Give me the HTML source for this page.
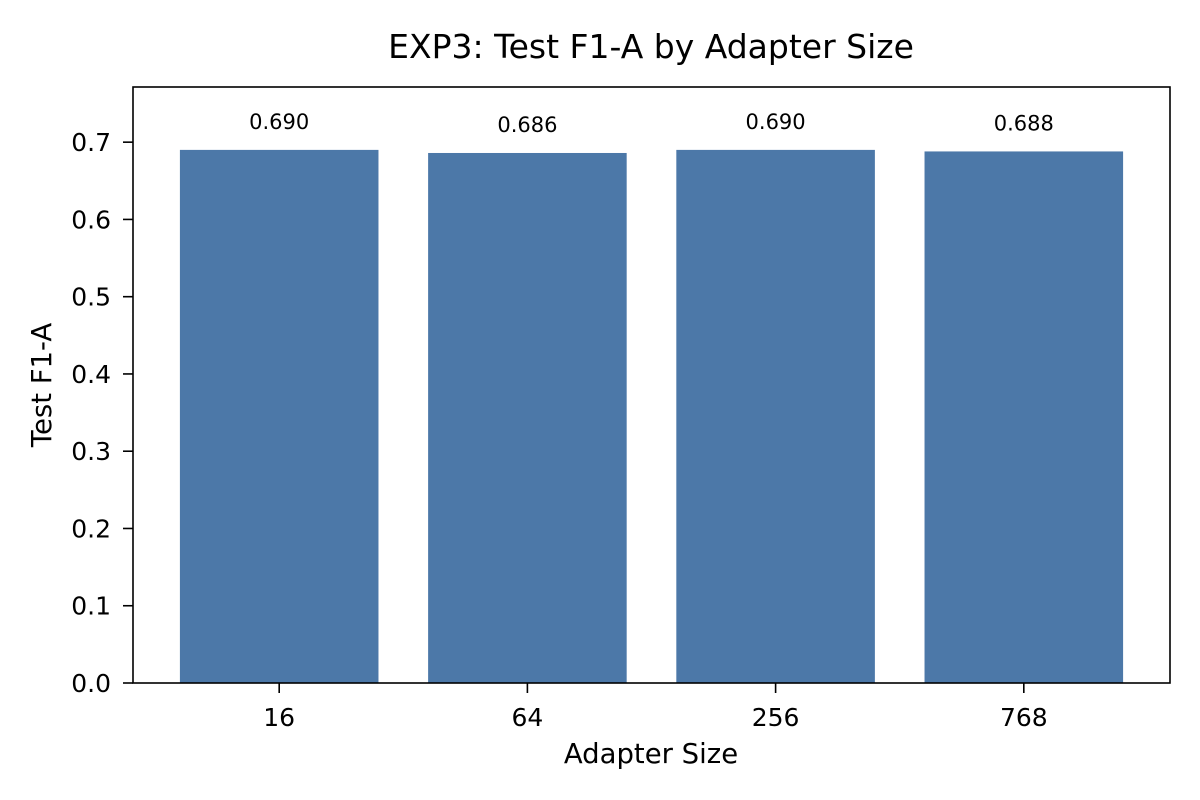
<!DOCTYPE html>
<html><head><meta charset="utf-8"><style>
body{margin:0;background:#fff;}
svg{display:block;font-family:"DejaVu Sans","Liberation Sans",sans-serif;}
</style></head><body>
<svg id="chart" width="1200" height="800"></svg>
<script>
const categories = ["16","64","256","768"];
const values = [0.690, 0.686, 0.690, 0.688];
const valueLabels = ["0.690","0.686","0.690","0.688"];
const yTicks = [0.0,0.1,0.2,0.3,0.4,0.5,0.6,0.7];

const svg = document.getElementById('chart');
const NS = 'http://www.w3.org/2000/svg';
const L=133,R=1170,T=87,B=683;
const yMax=0.7714, xMin=-0.589, xMax=3.589;
const y = v => B - (v/yMax)*(B-T);
const x = i => L + (i - xMin)/(xMax-xMin)*(R-L);
const unit = (R-L)/(xMax-xMin);
function mk(tag, attrs, text){const e=document.createElementNS(NS,tag);for(const k in attrs)e.setAttribute(k,attrs[k]);if(text!==undefined)e.textContent=text;svg.appendChild(e);return e;}

let t=mk('text',{x:651,y:58,'font-size':'33','text-anchor':'middle',fill:'#000'},'EXP3: Test F1-A by Adapter Size');



values.forEach((v,i)=>{
  const w=0.8*unit;
  const b=mk('rect',{x:x(i)-w/2,y:y(v),width:w,height:B-y(v),fill:'#4c78a8'});
  
  
  const lb=mk('text',{x:x(i),y:y(v)-21,'font-size':'21','text-anchor':'middle',fill:'#000'},valueLabels[i]);
  
  
  const tk=mk('line',{x1:x(i),x2:x(i),y1:B,y2:B+10,stroke:'#000','stroke-width':1.6});
  
  
  const tl=mk('text',{x:x(i),y:B+43,'font-size':'25','text-anchor':'middle',fill:'#000'},categories[i]);
  
  
});

yTicks.forEach(v=>{
  const tk=mk('line',{x1:L-10,x2:L,y1:y(v),y2:y(v),stroke:'#000','stroke-width':1.6});
  
  
  const tl=mk('text',{x:L-22,y:y(v)+9,'font-size':'25','text-anchor':'end',fill:'#000'},v.toFixed(1));
  
  
});

const fr=mk('rect',{x:L,y:T,width:R-L,height:B-T,fill:'none',stroke:'#000','stroke-width':1.6});



const xl=mk('text',{x:651,y:763,'font-size':'27.5','text-anchor':'middle',fill:'#000'},'Adapter Size');


const yl=mk('text',{x:51,y:385,'font-size':'27.5','text-anchor':'middle',fill:'#000',transform:'rotate(-90 51 385)'},'Test F1-A');


</script>
</body></html>
